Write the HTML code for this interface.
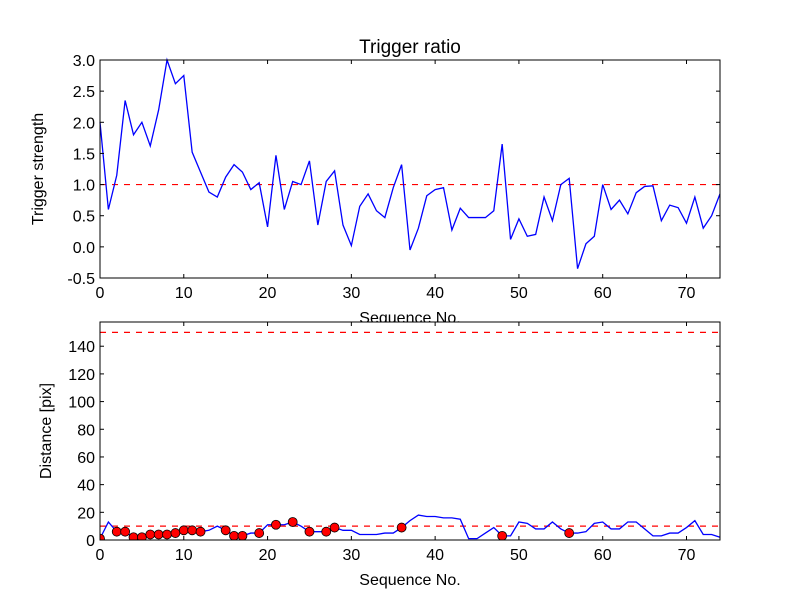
<!DOCTYPE html>
<html><head><meta charset="utf-8"><style>
body{margin:0;background:#fff;}
svg{display:block;font-family:"Liberation Sans","DejaVu Sans",sans-serif;}
</style></head><body>
<svg id="c" width="800" height="600" viewBox="0 0 800 600"></svg>
<script>
const seqX = Array.from({length:75},(_,i)=>i);
const triggerValues = [2.0,0.6,1.15,2.35,1.8,2.0,1.62,2.2,3.0,2.62,2.75,1.52,1.2,0.88,0.8,1.12,1.32,1.2,0.92,1.03,0.32,1.47,0.6,1.05,1.0,1.38,0.35,1.05,1.22,0.35,0.02,0.65,0.85,0.58,0.47,0.95,1.32,-0.05,0.3,0.82,0.92,0.95,0.27,0.62,0.47,0.47,0.47,0.58,1.65,0.12,0.45,0.17,0.2,0.8,0.42,1.0,1.1,-0.35,0.05,0.17,1.0,0.6,0.75,0.53,0.87,0.97,0.98,0.42,0.67,0.63,0.38,0.8,0.3,0.5,0.85];
const distValues = [1,13,6,6,2,2,4,4,4,5,7,7,6,7,10,7,3,3,5,5,11,11,11,13,10,6,6,6,9,7,7,4,4,4,5,5,9,14,18,17,17,16,16,15,1,1,5,9,3,3,13,12,8,8,13,8,5,5,6,12,13,8,8,13,13,8,3,3,5,5,9,14,4,4,2];
const markerIdx = [0,2,3,4,5,6,7,8,9,10,11,12,15,16,17,19,21,23,25,27,28,36,48,56];
const topYTicks = [-0.5,0.0,0.5,1.0,1.5,2.0,2.5,3.0];
const botYTicks = [0,20,40,60,80,100,120,140];
const xTicks = [0,10,20,30,40,50,60,70];
const topThreshold = [1.0];
const botThresholds = [10,150];

const NS="http://www.w3.org/2000/svg";
const svg=document.getElementById('c');
function mk(tag,attrs,parent){const e=document.createElementNS(NS,tag);for(const k in attrs)e.setAttribute(k,attrs[k]);(parent||svg).appendChild(e);return e;}
const L=100,R=720;
const xs=v=>L+(v-0)/(74-0)*(R-L);

function panel(top,bot,ymin,ymax,yt,fmt,name){
  const ys=v=>bot-(v-ymin)/(ymax-ymin)*(bot-top);
  const g=mk('g',{});
  
  
  mk('rect',{x:L,y:top,width:R-L,height:bot-top,fill:'#fff'},g);
  return {g,ys,top,bot,yt,fmt};
}
function axes(p,ylabel,xlabelY,ylabelX){
  const {g,ys,top,bot}=p;
  mk('rect',{x:L,y:top,width:R-L,height:bot-top,fill:'none',stroke:'#000','stroke-width':1},g);
  xTicks.forEach(t=>{const x=xs(t);
    mk('line',{x1:x,x2:x,y1:bot,y2:bot-4,stroke:'#000'},g);
    mk('line',{x1:x,x2:x,y1:top,y2:top+4,stroke:'#000'},g);
    const tx=mk('text',{x:x,y:bot+20,'text-anchor':'middle','font-size':16},g);tx.textContent=t;
    
    
  });
  p.yt.forEach(t=>{const y=ys(t);
    mk('line',{x1:L,x2:L+4,y1:y,y2:y,stroke:'#000'},g);
    mk('line',{x1:R,x2:R-4,y1:y,y2:y,stroke:'#000'},g);
    const tx=mk('text',{x:L-5,y:y+6,'text-anchor':'end','font-size':16},g);tx.textContent=p.fmt(t);
    
    
  });
  const xl=mk('text',{x:(L+R)/2,y:xlabelY,'text-anchor':'middle','font-size':16},g);xl.textContent='Sequence No.';
  
  
  const cy=(top+bot)/2;
  const yl=mk('text',{x:0,y:0,'text-anchor':'middle','font-size':16,transform:`translate(${ylabelX},${cy}) rotate(-90)`},g);yl.textContent=ylabel;
  
  
}

const p1=panel(60,278,-0.5,3.0,topYTicks,t=>t.toFixed(1),'trigger-panel');
topThreshold.forEach(v=>{const l=mk('line',{x1:L,x2:R,y1:p1.ys(v),y2:p1.ys(v),stroke:'#ff0000','stroke-width':1.2,'stroke-dasharray':'6,6'},p1.g);
  
  });
const l1=mk('polyline',{points:triggerValues.map((v,i)=>xs(seqX[i])+','+p1.ys(v)).join(' '),fill:'none',stroke:'#0000ff','stroke-width':1.3},p1.g);


axes(p1,'Trigger strength',323,43);
const title=mk('text',{x:(L+R)/2,y:53,'text-anchor':'middle','font-size':19});title.textContent='Trigger ratio';



const p2=panel(322,540,0,157.5,botYTicks,t=>String(t),'distance-panel');
botThresholds.forEach(v=>{const l=mk('line',{x1:L,x2:R,y1:p2.ys(v),y2:p2.ys(v),stroke:'#ff0000','stroke-width':1.2,'stroke-dasharray':'6,6'},p2.g);
  
  });
const l2=mk('polyline',{points:distValues.map((v,i)=>xs(seqX[i])+','+p2.ys(v)).join(' '),fill:'none',stroke:'#0000ff','stroke-width':1.3},p2.g);


const clip=mk('clipPath',{id:'cp'},svg);mk('rect',{x:L,y:322,width:R-L,height:218},clip);
const mg=mk('g',{'clip-path':'url(#cp)'},p2.g);
markerIdx.forEach(i=>{const c=mk('circle',{cx:xs(seqX[i]),cy:p2.ys(distValues[i]),r:4.5,fill:'#ff0000',stroke:'#000','stroke-width':0.8},mg);
  
  });
axes(p2,'Distance [pix]',585,51);
</script>
</body></html>
